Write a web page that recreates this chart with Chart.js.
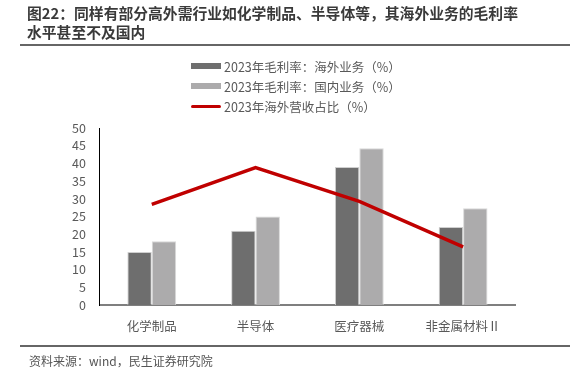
<!DOCTYPE html>
<html>
<head>
<meta charset="utf-8">
<script src="https://cdn.jsdelivr.net/npm/chart.js@4"></script>
<style>
  body { margin: 0; width: 570px; height: 385px; background: #fff; font-family: "Noto Sans CJK SC", sans-serif; position: relative; overflow: hidden; }
  #title { position: absolute; left: 27px; top: 3px; font-size: 14.8px; font-weight: bold; color: #3a3a3a; line-height: 19px; }
  #topRule { position: absolute; left: 20px; right: 0; top: 44px; height: 2px; background: #666; }
  #bottomRule { position: absolute; left: 20px; right: 0; top: 345px; height: 1.5px; background: #666; }
  #source { position: absolute; left: 29px; top: 352px; font-size: 12px; color: #555; }
  #legend { position: absolute; left: 191px; top: 56px; font-size: 12.5px; color: #595959; }
  .item { height: 20px; display: flex; align-items: center; }
  .swatch { width: 30px; margin-right: 3px; }
  #wrap { position: absolute; left: 0; top: 0; width: 570px; height: 385px; }
</style>
</head>
<body>
<div id="wrap"><canvas id="chart" width="570" height="385"></canvas></div>
<div id="title">图22：同样有部分高外需行业如化学制品、半导体等，其海外业务的毛利率<br>水平甚至不及国内</div>
<div id="topRule"></div>
<div id="legend"></div>
<div id="bottomRule"></div>
<div id="source">资料来源：wind，民生证券研究院</div>
<script>
const categories = ['化学制品', '半导体', '医疗器械', '非金属材料Ⅱ'];
const overseasMargin = [15, 21, 39, 22];
const domesticMargin = [18, 25, 44.3, 27.3];
const overseasShare = [28.4, 38.8, 29.3, 16.4];
const yTicks = [0, 5, 10, 15, 20, 25, 30, 35, 40, 45, 50];

const chart = new Chart(document.getElementById('chart'), {
    data: {
        labels: categories,
        datasets: [
            {
                type: 'line',
                label: '2023年海外营收占比（%）',
                data: overseasShare,
                borderColor: '#c00000',
                borderWidth: 3.5,
                pointRadius: 0,
                tension: 0,
                order: 0
            },
            {
                type: 'bar',
                label: '2023年毛利率：海外业务（%）',
                data: overseasMargin,
                backgroundColor: '#6e6e6e',
                borderColor: '#cfcfcf',
                borderWidth: 1,
                categoryPercentage: 0.47,
                barPercentage: 1,
                order: 1
            },
            {
                type: 'bar',
                label: '2023年毛利率：国内业务（%）',
                data: domesticMargin,
                backgroundColor: '#acabac',
                borderColor: '#d8d8d8',
                borderWidth: 1,
                categoryPercentage: 0.47,
                barPercentage: 1,
                order: 1
            }
        ]
    },
    options: {
        responsive: false,
        animation: false,
        layout: { padding: { left: 58, right: 55, top: 128, bottom: 37 } },
        plugins: { legend: { display: false }, tooltip: { enabled: false } },
        scales: {
            x: {
                grid: { display: false, drawTicks: false },
                border: { color: '#7f7f7f', width: 2 },
                ticks: { color: '#595959', font: { size: 12.5, family: 'Noto Sans CJK SC' }, padding: 14 }
            },
            y: {
                min: 0,
                max: 50,
                afterBuildTicks: axis => { axis.ticks = yTicks.map(v => ({ value: v })); },
                grid: { display: false, drawTicks: false },
                border: { color: '#000', width: 1 },
                ticks: { color: '#595959', font: { size: 12.5, family: 'Noto Sans CJK SC' }, padding: 14, autoSkip: false }
            }
        }
    }
});

// legend in the order of the reference
const legendOrder = [1, 2, 0];
const legend = document.getElementById('legend');
legendOrder.forEach(i => {
    const ds = chart.data.datasets[i];
    const row = document.createElement('div');
    row.className = 'item';
    const sw = document.createElement('span');
    sw.className = 'swatch';
    if (ds.type === 'line') {
        sw.style.height = '3px';
        sw.style.background = ds.borderColor;
        sw.style.borderRadius = '2px';
    } else {
        sw.style.height = '6px';
        sw.style.background = ds.backgroundColor;
    }
    row.appendChild(sw);
    row.appendChild(document.createTextNode(ds.label));
    legend.appendChild(row);
});
</script>
</body>
</html>
